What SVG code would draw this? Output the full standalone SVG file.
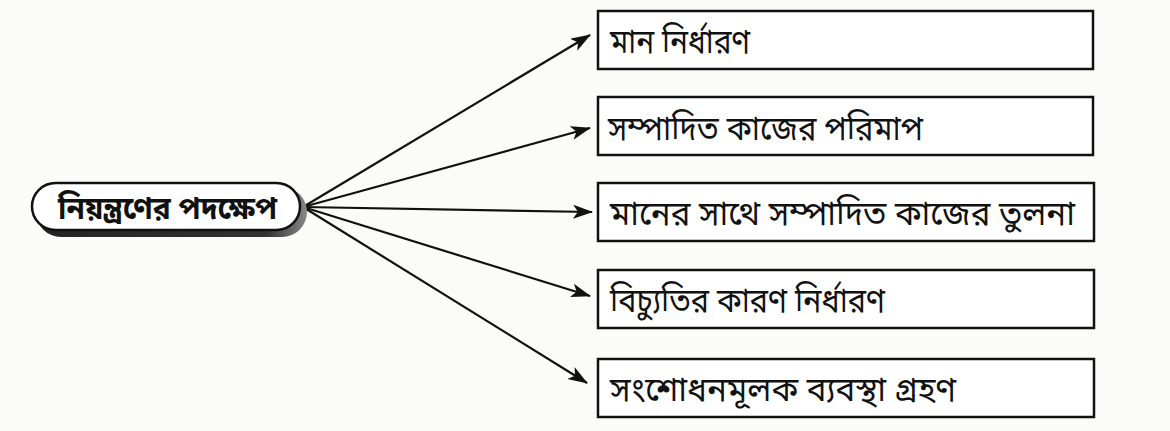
<svg xmlns="http://www.w3.org/2000/svg" width="1170" height="431" viewBox="0 0 1170 431">
<style>
.box{fill:#fff;stroke:#111;stroke-width:2.5}
.t{font-family:"Noto Sans Bengali","Noto Sans","DejaVu Sans",sans-serif;font-size:33px;fill:#111}
.tb{font-family:"Noto Sans Bengali","Noto Sans","DejaVu Sans",sans-serif;font-size:32px;font-weight:bold;fill:#111}
.c{stroke:#111;stroke-width:2.2;fill:none;marker-end:url(#ah)}
</style>
<defs>
<marker id="ah" viewBox="0 0 20 14" refX="19" refY="7" markerWidth="20" markerHeight="14" markerUnits="userSpaceOnUse" orient="auto">
<path d="M0,0 L20,7 L0,14 L5,7 Z" fill="#111"/>
</marker>
<linearGradient id="sh" x1="0" y1="0" x2="1" y2="0">
<stop offset="0" stop-color="#222"/>
<stop offset="0.85" stop-color="#333"/>
<stop offset="1" stop-color="#888"/>
</linearGradient>
</defs>
<rect width="1170" height="431" fill="#fbfbfa"/>
<g id="connectors">
<line class="c" x1="303" y1="207" x2="590" y2="35"/>
<line class="c" x1="303" y1="207" x2="590" y2="128"/>
<line class="c" x1="303" y1="207" x2="592" y2="212"/>
<line class="c" x1="303" y1="207" x2="590" y2="296"/>
<line class="c" x1="303" y1="207" x2="587" y2="383"/>
</g>
<g id="root">
<rect x="36" y="187" width="271" height="50" rx="25" fill="url(#sh)"/>
<rect x="32" y="183" width="268" height="47" rx="23.5" fill="#fff" stroke="#111" stroke-width="2.5"/>
<text class="tb" x="58" y="219" textLength="219" lengthAdjust="spacingAndGlyphs">নিয়ন্ত্রণের পদক্ষেপ</text>
</g>
<g id="n1">
<rect class="box" x="598" y="11" width="495" height="58"/>
<text class="t" x="610" y="53" textLength="140" lengthAdjust="spacingAndGlyphs">মান নির্ধারণ</text>
</g>
<g id="n2">
<rect class="box" x="598" y="97" width="495" height="58"/>
<text class="t" x="608" y="140" textLength="315" lengthAdjust="spacingAndGlyphs">সম্পাদিত কাজের পরিমাপ</text>
</g>
<g id="n3">
<rect class="box" x="598" y="183" width="496" height="58"/>
<text class="t" x="610" y="225" textLength="465" lengthAdjust="spacingAndGlyphs">মানের সাথে সম্পাদিত কাজের তুলনা</text>
</g>
<g id="n4">
<rect class="box" x="598" y="270" width="496" height="58"/>
<text class="t" x="610" y="312" textLength="275" lengthAdjust="spacingAndGlyphs">বিচ্যুতির কারণ নির্ধারণ</text>
</g>
<g id="n5">
<rect class="box" x="598" y="359" width="496" height="58"/>
<text class="t" x="610" y="401" textLength="346" lengthAdjust="spacingAndGlyphs">সংশোধনমূলক ব্যবস্থা গ্রহণ</text>
</g>
</svg>
